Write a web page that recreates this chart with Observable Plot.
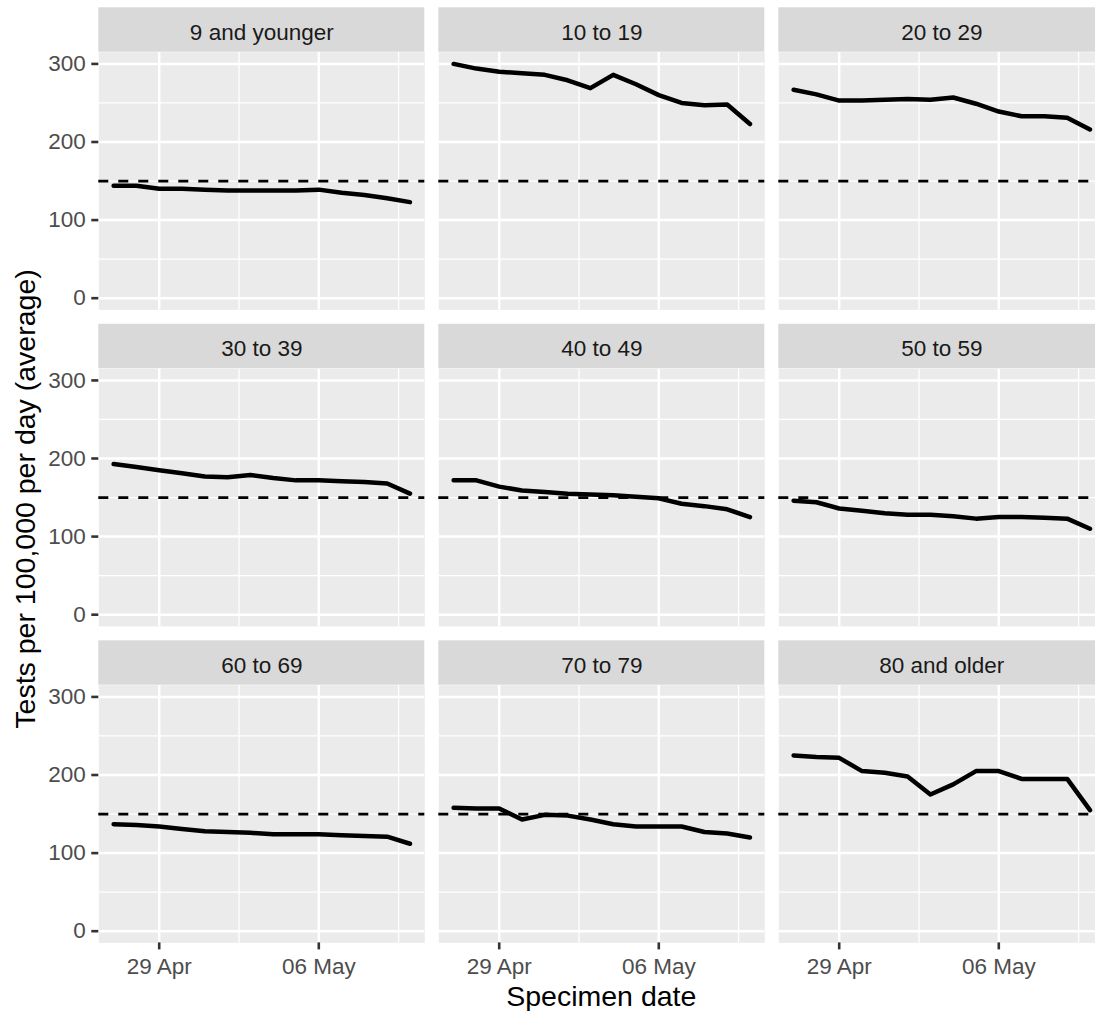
<!DOCTYPE html>
<html>
<head>
<meta charset="utf-8">
<script src="https://cdn.jsdelivr.net/npm/d3@7"></script>
<script src="https://cdn.jsdelivr.net/npm/@observablehq/plot@0.6"></script>
<style>
  html, body { margin: 0; padding: 0; background: white; overflow: hidden; }
  #chart { width: 1095px; height: 1011px; overflow: hidden; }
  #chart svg { max-width: none !important; height: 1011px !important; }
</style>
</head>
<body>
<div id="chart"></div>
<script>
// ---- data ----
const ageGroups = ["9 and younger", "10 to 19", "20 to 29", "30 to 39", "40 to 49", "50 to 59", "60 to 69", "70 to 79", "80 and older"];
const specimenDates = ["2021-04-27", "2021-04-28", "2021-04-29", "2021-04-30", "2021-05-01", "2021-05-02", "2021-05-03",
                       "2021-05-04", "2021-05-05", "2021-05-06", "2021-05-07", "2021-05-08", "2021-05-09", "2021-05-10"];
const age0to9   = [144, 144, 140, 140, 139, 138, 138, 138, 138, 139, 135, 132, 128, 123];
const age10to19 = [300, 294, 290, 288, 286, 279, 269, 286, 274, 260, 250, 247, 248, 223];
const age20to29 = [267, 261, 253, 253, 254, 255, 254, 257, 249, 239, 233, 233, 231, 216];
const age30to39 = [193, 189, 185, 181, 177, 176, 179, 175, 172, 172, 171, 170, 168, 155];
const age40to49 = [172, 172, 164, 159, 157, 155, 154, 153, 151, 149, 142, 139, 135, 125];
const age50to59 = [146, 144, 136, 133, 130, 128, 128, 126, 123, 125, 125, 124, 123, 110];
const age60to69 = [137, 136, 134, 131, 128, 127, 126, 124, 124, 124, 123, 122, 121, 112];
const age70to79 = [158, 157, 157, 143, 149, 148, 143, 137, 134, 134, 134, 127, 125, 120];
const age80plus = [225, 223, 222, 205, 203, 198, 175, 188, 205, 205, 195, 195, 195, 155];
const seriesValues = [age0to9, age10to19, age20to29, age30to39, age40to49, age50to59, age60to69, age70to79, age80plus];
const thresholdValue = 150;
const yTicks = [0, 100, 200, 300];
const yMinorTicks = [50, 150, 250];
const xTickLabels = ["2021-04-29", "2021-05-06"];
const xMinorTicks = ["2021-05-02T12:00Z", "2021-05-09T12:00Z"];

// ---- build tables ----
const parse = (s) => new Date(s.length === 10 ? s + "T00:00Z" : s);
const dates = specimenDates.map(parse);
const rows = [];
seriesValues.forEach((vals, k) => {
  vals.forEach((v, i) => rows.push({group: ageGroups[k], col: k % 3, row: Math.floor(k / 3), date: dates[i], value: v}));
});
const strips = ageGroups.map((g, k) => ({label: g, col: k % 3, row: Math.floor(k / 3)}));

const day = 864e5;
const xStart = new Date(+dates[0] - 0.65 * day);
const xEnd = new Date(+dates[dates.length - 1] + 0.65 * day);
const yLo = -15, yHi = 315;

const FONT = "'Liberation Sans', Arial, Helvetica, sans-serif";
const W = 1118, H = 1011;
const mL = 98.3, mR = W - 1104.3, mT = 51.7, mB = H - 942.4;

const chart = Plot.plot({
  width: W,
  height: H,
  marginLeft: mL,
  marginRight: mR,
  marginTop: mT,
  marginBottom: mB,
  style: {fontFamily: FONT, fontSize: "22.5px", background: "white", overflow: "visible", maxWidth: "none"},
  x: {type: "utc", domain: [xStart, xEnd]},
  y: {domain: [yLo, yHi]},
  fx: {domain: [0, 1, 2], axis: null, paddingInner: 14 / 340, paddingOuter: 0, round: false},
  fy: {domain: [0, 1, 2], axis: null, paddingInner: 58.8 / 316.4, paddingOuter: 0, round: false},
  marks: [
    Plot.frame({fill: "#EBEBEB", stroke: "none"}),
    Plot.ruleY(yMinorTicks, {stroke: "white", strokeWidth: 1.3}),
    Plot.ruleX(xMinorTicks.map(parse), {stroke: "white", strokeWidth: 1.3}),
    Plot.ruleY(yTicks, {stroke: "white", strokeWidth: 2.5}),
    Plot.ruleX(xTickLabels.map(parse), {stroke: "white", strokeWidth: 2.5}),
    Plot.ruleY([thresholdValue], {stroke: "black", strokeWidth: 2.7, strokeDasharray: "10,10"}),
    Plot.line(rows, {x: "date", y: "value", z: "group", fx: "col", fy: "row", stroke: "black", strokeWidth: 4.5, strokeLinejoin: "round"}),
    Plot.rect(strips, {x1: () => xStart, x2: () => xEnd, y1: () => yHi, y2: () => yHi, insetTop: -44.4, fx: "col", fy: "row", fill: "#D9D9D9"}),
    Plot.text(strips, {text: "label", fx: "col", fy: "row", frameAnchor: "top", lineAnchor: "middle", dy: -19.6, fontSize: 22.5, fill: "#1A1A1A"}),
    Plot.axisY({ticks: yTicks, tickSize: 7, tickPadding: 6, fontSize: 22.5, stroke: "#333333", fill: "#4D4D4D", strokeWidth: 2.6, label: null, facetAnchor: "left"}),
    Plot.axisX({ticks: xTickLabels.map(parse), tickFormat: d3.utcFormat("%d %b"), tickSize: 7, tickPadding: 7.8, fontSize: 22.5, stroke: "#333333", fill: "#4D4D4D", strokeWidth: 2.6, label: null, facetAnchor: "bottom"})
  ]
});

const svg = d3.select(chart);
svg.append("text")
  .attr("transform", "translate(35,499) rotate(-90)")
  .attr("text-anchor", "middle")
  .attr("font-family", FONT)
  .attr("font-size", 28.5)
  .attr("fill", "black")
  .text("Tests per 100,000 per day (average)");
svg.append("text")
  .attr("x", 601.3)
  .attr("y", 1005.5)
  .attr("text-anchor", "middle")
  .attr("font-family", FONT)
  .attr("font-size", 28.5)
  .attr("fill", "black")
  .text("Specimen date");

document.getElementById("chart").appendChild(chart);
</script>
</body>
</html>
